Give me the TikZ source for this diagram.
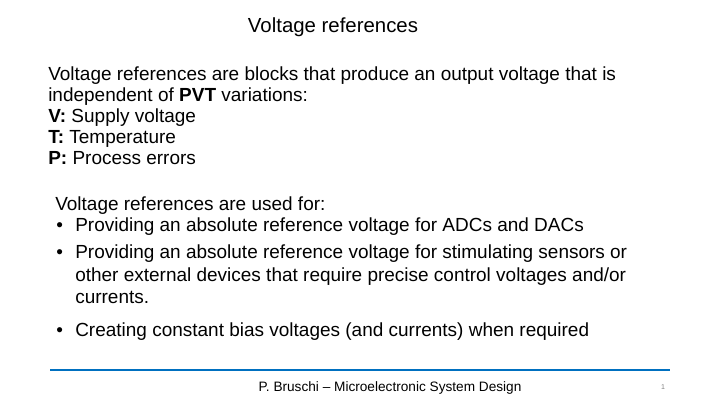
\documentclass[tikz,border=0pt]{standalone}
\usepackage{fontspec}
\setmainfont{Liberation Sans}
\usetikzlibrary{positioning}
\definecolor{footblue}{RGB}{0,112,192}
\tikzset{body/.style={anchor=base west, inner sep=0pt, font=\fontsize{13.5}{16}\selectfont},
         bullet/.style={anchor=base west, inner sep=0pt, font=\fontsize{13.5}{16}\selectfont}}
\begin{document}
\begin{tikzpicture}[x=0.025cm,y=-0.025cm]
  \useasboundingbox (0,0) rectangle (720,405);
  \node[anchor=base, inner sep=0pt, font=\fontsize{14.5}{17}\selectfont] (title) at (333,33) {Voltage references};

  % definition
  \node[body] (def1) at (48,81) {Voltage references are blocks that produce an output voltage that is};
  \node[body] (def2) at (48,102) {independent of \textbf{PVT} variations:};
  \node[body] (vline) at (48,123) {\textbf{V:} Supply voltage};
  \node[body] (tline) at (48,144) {\textbf{T:} Temperature};
  \node[body] (pline) at (48,165) {\textbf{P:} Process errors};

  % uses
  \node[body] (uses) at (55,211) {Voltage references are used for:};
  \foreach \y/\name in {232/a, 259/b, 336/d}
    \node[bullet] (dot\name) at (56,\y) {•};
  \node[body] (usea) at (75,232) {Providing an absolute reference voltage for ADCs and DACs};
  \node[body] (useb1) at (75,259) {Providing an absolute reference voltage for stimulating sensors or};
  \node[body] (useb2) at (75,281) {other external devices that require precise control voltages and/or};
  \node[body] (useb3) at (75,303) {currents.};
  \node[body] (used) at (75,336) {Creating constant bias voltages (and currents) when required};

  % footer
  \coordinate (fl) at (50,370);
  \coordinate (fr) at (670,370);
  \draw[footblue, line width=1.5pt] (fl) -- (fr);
  \node[anchor=base, inner sep=0pt, font=\fontsize{9.7}{12}\selectfont] (foot) at (390,391) {P. Bruschi -- Microelectronic System Design};
  \node[anchor=base, inner sep=0pt, font=\fontsize{5}{6}\selectfont, text=gray] (page) at (663,389) {1};
\end{tikzpicture}
\end{document}
